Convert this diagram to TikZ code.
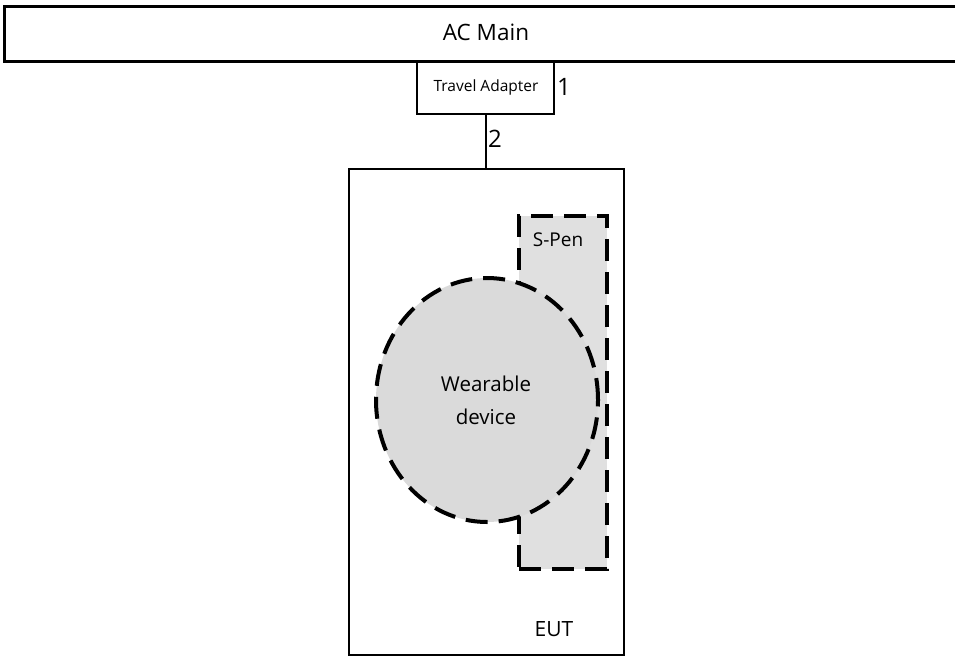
\documentclass[tikz,border=0pt]{standalone}
\usepackage{fontspec}
\setmainfont{Open Sans}
\usetikzlibrary{shapes.geometric}
\definecolor{penfill}{HTML}{E0E0E0}
\definecolor{wearfill}{HTML}{DADADA}
\tikzset{
  solidbox/.style={draw=black, line width=2.2pt},
  dashbox/.style={draw=black, line width=4pt, dash pattern=on 22pt off 11pt},
  lbl/.style={inner sep=0pt},
}
\begin{document}
\begin{tikzpicture}[x=1pt,y=-1pt]
\useasboundingbox (0,0) rectangle (955,656);
% AC main
\node[draw=black, line width=3pt, minimum width=960pt, minimum height=55pt, anchor=north west, inner sep=0pt] (ac) at (3,5) {};
\node[lbl, font=\fontsize{22.5}{26}\selectfont] (actext) at (486,32) {AC Main};
% travel adapter
\node[solidbox, minimum width=137pt, minimum height=53pt, anchor=north west, inner sep=0pt] (ta) at (416,60) {};
\node[lbl, font=\fontsize{15.5}{18}\selectfont] (tatext) at (486,87) {Travel Adapter};
\node[lbl, font=\fontsize{24}{28}\selectfont] (one) at (564,87) {1};
% EUT
\node[solidbox, minimum width=275pt, minimum height=486pt, anchor=north west, inner sep=0pt] (eut) at (348,168) {};
\coordinate (tabot) at (486,113);
\coordinate (euttop) at (486,168);
\draw[line width=1.5pt] (tabot) -- (euttop);
\node[lbl, font=\fontsize{24}{28}\selectfont] (two) at (495,139) {2};
\node[lbl, font=\fontsize{21}{25}\selectfont] (euttext) at (554,629) {EUT};
% S-Pen
\node[dashbox, fill=penfill, minimum width=88pt, minimum height=353pt, anchor=north west, inner sep=0pt] (spen) at (517,214) {};
\node[lbl, font=\fontsize{19}{22}\selectfont] (spentext) at (558,240) {S-Pen};
% Wearable
\node[dashbox, fill=wearfill, ellipse, minimum width=222pt, minimum height=244pt, inner sep=0pt] (wear) at (487,400) {};
\node[lbl, align=center, font=\fontsize{20.5}{33}\selectfont] (weartext) at (486,400) {Wearable\\device};
\end{tikzpicture}
\end{document}
